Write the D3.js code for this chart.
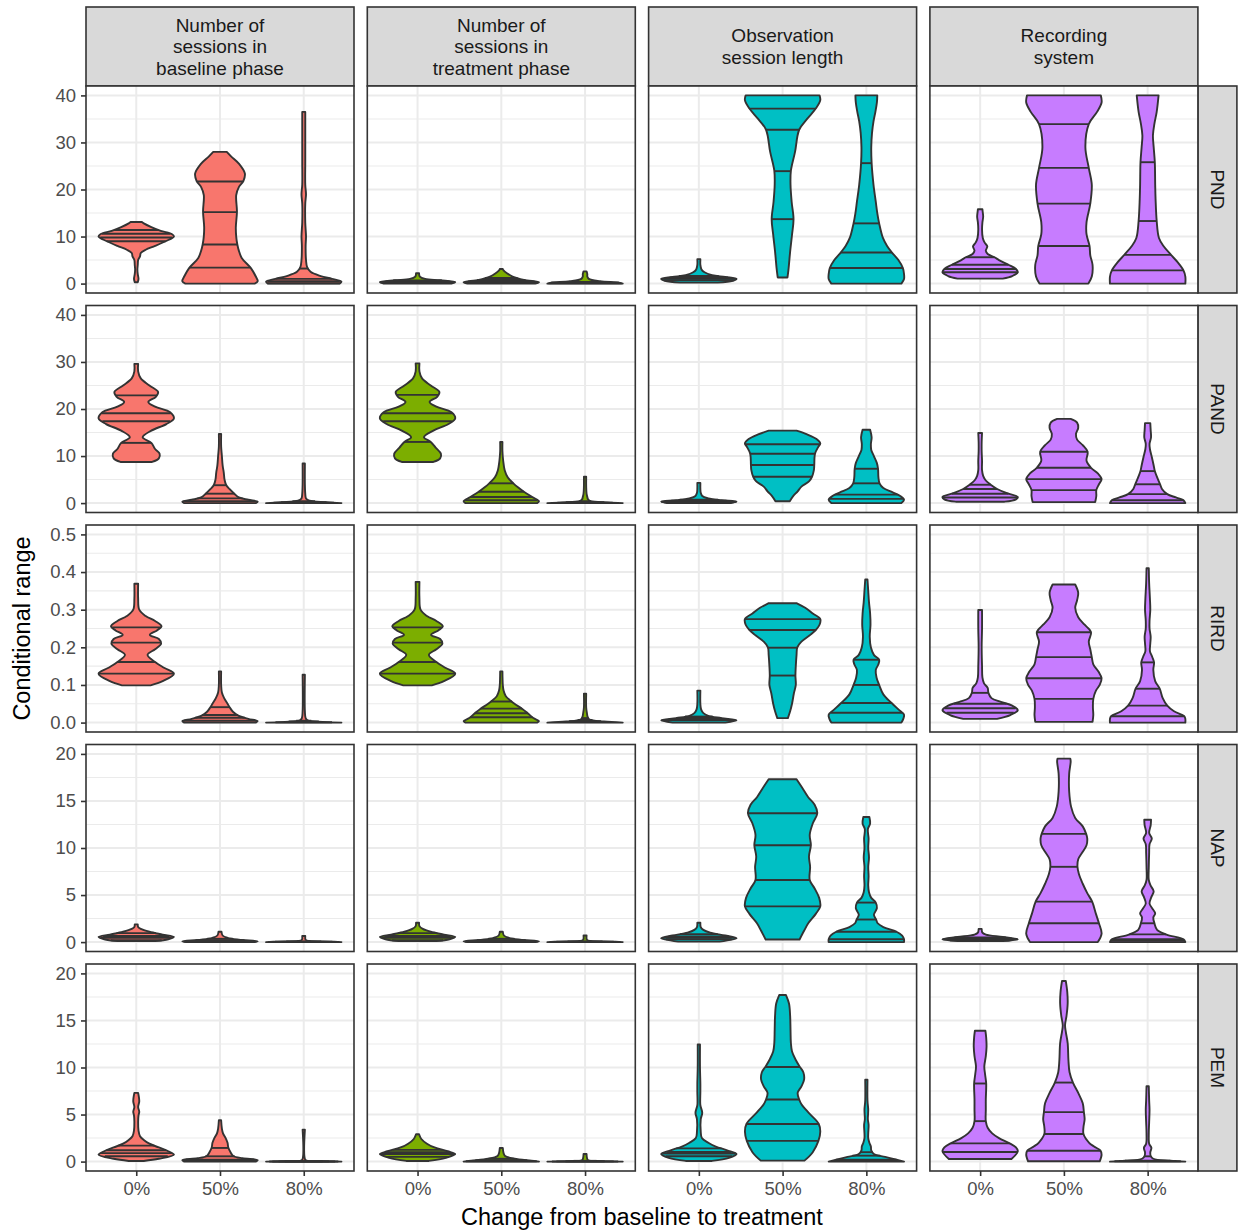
<!DOCTYPE html>
<html>
<head>
<meta charset="utf-8">
<script src="https://cdn.jsdelivr.net/npm/d3@7"></script>
<style>
body { margin: 0; background: #fff; }
text { font-family: "Liberation Sans", Arial, Helvetica, sans-serif; }
</style>
</head>
<body>
<div id="vizContainer"></div>
<script>
let w = 1238;
let h = 1232;

// facet labels
let colLabels = [
	["Number of", "sessions in", "baseline phase"],
	["Number of", "sessions in", "treatment phase"],
	["Observation", "session length"],
	["Recording", "system"]
];
let rowLabels = ["PND", "PAND", "RIRD", "NAP", "PEM"];
let changes = ["0%", "50%", "80%"];

// y tick values for each row
let ticksPND = [0, 10, 20, 30, 40];
let ticksPAND = [0, 10, 20, 30, 40];
let ticksRIRD = [0, 0.1, 0.2, 0.3, 0.4, 0.5];
let ticksNAP = [0, 5, 10, 15, 20];
let ticksPEM = [0, 5, 10, 15, 20];

// violin outlines: [value, relative half width]
// indexed [column][change]
let shapePND = [
	[
		[[0.3,.04],[1,.06],[2,.04],[3,.03],[4,.04],[5,.05],[5.8,.1],[6.5,.12],[7.2,.25],[8,.5],[9,.78],[10,1],[10.5,.95],[11.2,.65],[12,.4],[12.8,.2],[13.1,.15]],
		[[0,.92],[.5,1],[1.5,.95],[3.3,.82],[5.4,.58],[7,.5],[8.3,.46],[10,.43],[12,.42],[15.3,.45],[18.8,.43],[20.5,.5],[21.8,.62],[23.4,.66],[25.5,.5],[27,.3],[28,.18]],
		[[0,.95],[.4,1],[1,.75],[1.6,.45],[2.5,.18],[3.5,.09],[5,.06],[8,.05],[10,.06],[13,.04],[17,.04],[19,.06],[21,.04],[26,.04],[32,.04],[36.5,.04]]
	],
	[
		[[0,.9],[.3,1],[.7,.6],[1,.2],[1.5,.06],[2.2,.04]],
		[[0,.9],[.3,1],[.8,.6],[1.5,.3],[2.2,.15],[2.8,.06],[3.1,.04]],
		[[0,1],[.2,.9],[.5,.4],[1,.1],[1.5,.06],[2,.06],[2.6,.04]]
	],
	[
		[[.2,.5],[.6,.9],[1,1],[1.4,.7],[1.8,.35],[2.4,.15],[3,.07],[4,.04],[5.2,.04]],
		[[1.3,.13],[3.3,.16],[6.8,.2],[10.4,.25],[13.7,.29],[17.4,.24],[21,.21],[24,.22],[28,.33],[32.7,.44],[35,.65],[37.2,.88],[39,1],[40,.98]],
		[[0,.93],[1,1],[2,1],[3.3,.97],[5,.85],[6.6,.68],[8,.55],[9.7,.44],[12.8,.34],[15,.29],[17.4,.25],[21,.19],[25.6,.14],[29,.13],[32,.15],[34.5,.19],[36.5,.24],[38.5,.28],[40,.29]]
	],
	[
		[[1.06,.6],[1.6,.85],[2.4,1],[3.1,.95],[4,.75],[5,.5],[5.6,.38],[6.3,.2],[7,.15],[7.9,.19],[8.7,.12],[9.7,.07],[11.5,.05],[13,.06],[14.2,.08],[15.1,.07],[15.8,.06]],
		[[0,.65],[1.5,.74],[4,.76],[6,.7],[8,.68],[10.5,.6],[13,.6],[17,.7],[21,.74],[24.6,.66],[29,.57],[33.9,.66],[36.5,.88],[38.5,1],[40,.98]],
		[[0,1],[1.5,1],[2.8,.95],[4.5,.8],[6.1,.62],[8,.42],[9.7,.3],[13.3,.24],[18,.21],[21,.2],[25.8,.19],[29,.16],[31.5,.14],[34,.18],[36.5,.24],[40,.29]]
	]
];
let quantPND = [
	[[9.0,9.8,10.6,11.4], [3.4,8.3,15.2,21.7], [0.07,0.5,1.0,3.2]],
	[[0.15,0.3,0.45,0.65], [0.2,0.45,0.75,1.2], [0.05,0.1,0.2,0.35]],
	[[0.7,1.0,1.3,1.6], [13.7,23.9,32.7,37.2], [3.3,6.6,12.8,25.6]],
	[[2.4,3.1,4.0,5.6], [8.0,17.0,24.6,33.9], [2.8,6.1,13.3,25.8]]
];

let shapePAND = [
	[
		[[8.75,.42],[9.5,.6],[10.5,.62],[11.5,.5],[12.8,.4],[14,.17],[15.4,.4],[16.8,.8],[18,1],[19.3,.9],[20.5,.5],[21.5,.32],[22.6,.52],[23.6,.58],[25,.35],[26.5,.12],[28,.05],[29.6,.05]],
		[[0,.95],[.3,1],[.7,.75],[1.2,.5],[2,.38],[3,.25],[3.9,.16],[5,.12],[6.5,.1],[8,.07],[10,.05],[12,.03],[14.7,.03]],
		[[0,1],[.2,.6],[.5,.15],[1,.06],[2,.04],[4,.03],[8.4,.03]]
	],
	[
		[[8.75,.42],[9.5,.6],[10.5,.62],[11.8,.48],[13,.35],[14,.17],[15.4,.42],[16.8,.82],[18,1],[19.3,.9],[20.5,.5],[21.5,.32],[22.6,.52],[23.6,.58],[25,.35],[26.5,.12],[28,.05],[29.7,.05]],
		[[0,.95],[.4,1],[1.3,.82],[2.4,.6],[3.3,.45],[4.2,.32],[5.5,.17],[7,.09],[9,.05],[11,.03],[13,.03]],
		[[0,1],[.15,.6],[.4,.15],[.8,.08],[1.3,.06],[2,.04],[3.5,.03],[5.6,.03]]
	],
	[
		[[0,.85],[.3,1],[.6,.6],[1,.25],[1.5,.09],[2.2,.05],[3,.04],[4.3,.04]],
		[[.4,.19],[1.5,.28],[2.5,.4],[3.5,.5],[4.6,.7],[5.6,.78],[7,.83],[8.1,.84],[10.5,.86],[12,.95],[12.7,1],[13.6,.9],[14.6,.65],[15.4,.37]],
		[[0,.93],[.7,1],[1.5,.9],[2.3,.7],[3.2,.45],[4.2,.35],[5.5,.32],[7.3,.31],[8.5,.28],[10,.2],[11.3,.13],[12.5,.12],[14,.14],[15.6,.1]]
	],
	[
		[[.3,.65],[.8,.95],[1.3,1],[2,.75],[3,.45],[3.9,.28],[4.8,.15],[5.8,.08],[7,.05],[9,.05],[11,.04],[13,.04],[14.9,.05]],
		[[.2,.83],[1.5,.86],[2.75,.86],[4,.93],[5.1,1],[6.3,.9],[7.5,.72],[9,.6],[10.9,.63],[12.3,.5],[13.5,.35],[14.7,.32],[16,.38],[17.1,.35],[17.9,.18]],
		[[0,1],[.6,.95],[1.2,.75],[1.9,.52],[3,.38],[4,.33],[5.5,.25],[6.8,.19],[8,.16],[9.8,.11],[11.5,.06],[12.6,.05],[14,.09],[15.5,.08],[17,.07]]
	]
];
let quantPAND = [
	[[12.8,17.4,19.1,22.9], [0.4,1.0,2.0,3.8], [0.05,0.1,0.2,0.4]],
	[[13.0,17.4,19.1,23.0], [0.6,1.3,2.4,4.2], [0.05,0.1,0.2,0.4]],
	[[0.15,0.3,0.5,0.7], [5.6,8.1,10.5,12.5], [0.9,1.8,4.2,7.3]],
	[[1.2,2.0,3.0,3.9], [2.75,5.1,7.5,10.9], [0.6,1.9,4.0,6.8]]
];

let shapeRIRD = [
	[
		[[.099,.38],[.11,.7],[.13,1],[.145,.75],[.161,.5],[.18,.3],[.195,.5],[.21,.66],[.222,.6],[.233,.36],[.245,.55],[.256,.67],[.27,.5],[.283,.25],[.3,.08],[.33,.05],[.369,.05]],
		[[0,.95],[.004,1],[.01,.75],[.018,.5],[.028,.35],[.04,.26],[.05,.2],[.065,.11],[.08,.05],[.1,.03],[.136,.03]],
		[[0,1],[.002,.5],[.006,.1],[.012,.05],[.03,.03],[.127,.03]]
	],
	[
		[[.099,.38],[.11,.7],[.13,1],[.145,.75],[.161,.5],[.18,.3],[.195,.5],[.21,.66],[.222,.6],[.233,.36],[.245,.55],[.256,.67],[.27,.5],[.283,.25],[.3,.08],[.33,.05],[.374,.05]],
		[[0,.95],[.004,1],[.012,.85],[.025,.7],[.037,.55],[.05,.35],[.058,.25],[.07,.12],[.085,.06],[.1,.04],[.136,.03]],
		[[0,1],[.003,.5],[.008,.12],[.015,.07],[.025,.05],[.04,.03],[.077,.03]]
	],
	[
		[[0,.7],[.006,1],[.012,.6],[.018,.25],[.025,.12],[.035,.06],[.05,.04],[.085,.04]],
		[[.012,.14],[.03,.2],[.05,.25],[.078,.3],[.1,.35],[.125,.34],[.15,.35],[.18,.37],[.2,.39],[.215,.5],[.232,.72],[.246,.88],[.26,.98],[.275,1],[.29,.8],[.305,.6],[.317,.38]],
		[[0,.93],[.01,.98],[.021,1],[.035,.85],[.052,.67],[.075,.45],[.1,.34],[.12,.27],[.14,.25],[.155,.32],[.167,.34],[.18,.2],[.2,.12],[.228,.09],[.26,.11],[.29,.1],[.32,.07],[.35,.05],[.38,.03]]
	],
	[
		[[.01,.45],[.02,.8],[.033,1],[.045,.85],[.055,.55],[.065,.3],[.079,.22],[.092,.2],[.105,.1],[.12,.06],[.15,.05],[.2,.04],[.25,.05],[.299,.05]],
		[[.002,.76],[.02,.78],[.04,.77],[.063,.78],[.085,.85],[.1,.95],[.118,1],[.135,.92],[.155,.78],[.174,.74],[.195,.7],[.215,.66],[.24,.72],[.26,.55],[.28,.38],[.305,.3],[.325,.35],[.345,.38],[.367,.3]],
		[[0,1],[.01,1],[.017,.97],[.03,.7],[.045,.52],[.065,.4],[.09,.32],[.11,.2],[.14,.15],[.16,.17],[.175,.12],[.19,.06],[.21,.07],[.228,.08],[.25,.05],[.27,.05],[.3,.07],[.33,.06],[.37,.04],[.41,.03]]
	]
];
let quantRIRD = [
	[[.13,.161,.2125,.253], [.005,.013,.02,.041], [.001,.002,.003,.005]],
	[[.13,.161,.2125,.253], [.014,.025,.037,.056], [.002,.004,.007,.012]],
	[[.006,.009,.012,.016], [.125,.199,.246,.275], [.026,.052,.1,.167]],
	[[.026,.038,.05,.079], [.063,.118,.174,.24], [.017,.045,.09,.16]]
];

let shapeNAP = [
	[
		[[.1,.5],[.3,.85],[.55,1],[.8,.7],[1.1,.35],[1.4,.12],[1.6,.05],[1.88,.04]],
		[[0,.9],[.08,1],[.25,.5],[.45,.2],[.7,.07],[1.1,.04]],
		[[0,1],[.05,.7],[.12,.15],[.25,.05],[.64,.04]]
	],
	[
		[[.1,.5],[.3,.85],[.55,1],[.8,.7],[1.1,.35],[1.4,.14],[1.7,.05],[2.06,.04]],
		[[0,.9],[.08,1],[.25,.5],[.45,.2],[.7,.07],[1.1,.04]],
		[[0,1],[.05,.7],[.12,.15],[.25,.05],[.7,.04]]
	],
	[
		[[.05,.55],[.4,1],[.7,.7],[1,.3],[1.3,.12],[1.6,.05],[2.06,.04]],
		[[.28,.45],[1.2,.57],[2,.68],[3,.88],[3.8,1],[4.7,.97],[5.7,.85],[6.6,.72],[8,.73],[9.1,.7],[10.3,.75],[11.4,.72],[12.6,.8],[13.7,.92],[14.6,.85],[15.4,.68],[16.4,.52],[17.3,.37]],
		[[0,1],[.3,1],[.7,.95],[1.1,.8],[1.6,.45],[2,.3],[2.4,.26],[2.9,.2],[3.6,.28],[4.2,.25],[4.7,.13],[5.3,.07],[6,.05],[7,.06],[8,.05],[9,.07],[10,.05],[11,.06],[12,.04],[12.6,.1],[13.3,.08]]
	],
	[
		[[.1,.6],[.3,1],[.55,.6],[.8,.15],[1,.06],[1.4,.04]],
		[[0,.9],[.9,1],[2,.93],[3,.85],[4.3,.75],[5.2,.62],[6.2,.5],[7.2,.4],[8,.36],[8.8,.38],[9.6,.5],[10.3,.6],[11,.62],[11.5,.59],[12.3,.5],[13.2,.3],[14.4,.19],[16,.14],[17.9,.14],[19.2,.18],[19.5,.17]],
		[[0,1],[.3,.95],[.8,.5],[1.3,.25],[2,.18],[2.6,.15],[3.05,.2],[3.6,.12],[4.1,.05],[4.8,.1],[5.4,.16],[6,.08],[6.6,.03],[8,.03],[9.5,.04],[10.4,.05],[11,.11],[11.6,.04],[12.4,.08],[13,.09]]
	]
];
let quantNAP = [
	[[.2,.45,.65,.95], [.05,.12,.2,.35], [.01,.02,.04,.08]],
	[[.2,.45,.65,.95], [.05,.12,.2,.35], [.01,.02,.04,.08]],
	[[.3,.45,.6,.85], [3.8,6.6,10.3,13.7], [.3,1.1,2.4,4.2]],
	[[.2,.3,.4,.5], [2.0,4.3,8.0,11.5], [.15,.32,.82,2.0]]
];

let shapePEM = [
	[
		[[.07,.2],[.3,.6],[.74,1],[1.1,.85],[1.5,.6],[1.9,.35],[2.3,.2],[2.7,.1],[3.3,.06],[4.2,.05],[4.9,.06],[5.3,.08],[5.8,.05],[6.4,.08],[7.3,.05]],
		[[0,.95],[.15,1],[.35,.6],[.6,.35],[1,.28],[1.5,.22],[2,.2],[2.5,.15],[3,.08],[3.5,.05],[4.4,.03]],
		[[0,1],[.03,.5],[.08,.1],[.2,.04],[3.4,.03]]
	],
	[
		[[.07,.3],[.4,.75],[.8,1],[1.1,.8],[1.5,.45],[1.9,.25],[2.4,.1],[2.9,.04]],
		[[0,1],[.1,.8],[.3,.35],[.6,.1],[.9,.06],[1.45,.04]],
		[[0,1],[.05,.4],[.15,.08],[.4,.05],[.8,.04]]
	],
	[
		[[.07,.35],[.4,.8],[.8,1],[1.2,.75],[1.6,.45],[2,.25],[2.5,.08],[3.2,.05],[4.5,.05],[5.2,.09],[6,.04],[7.4,.04],[8.3,.04],[10,.03],[12.45,.03]],
		[[.1,.58],[1,.8],[2.2,.95],[3.2,1],[4,.96],[5.15,.7],[6.1,.5],[6.6,.44],[7.3,.4],[8,.5],[8.7,.57],[9.5,.55],[10.05,.46],[10.8,.35],[11.7,.25],[12.6,.22],[14,.21],[15.5,.2],[16.8,.17],[17.7,.09]],
		[[0,1],[.2,.8],[.5,.5],[.8,.2],[1.2,.13],[1.6,.12],[2,.08],[2.5,.05],[3,.05],[3.9,.06],[4.5,.04],[5.5,.05],[6.5,.03],[8.7,.03]]
	],
	[
		[[.28,.83],[1.1,1],[1.5,.95],[1.94,.78],[2.5,.5],[3,.32],[3.6,.2],[4.3,.15],[5.5,.15],[6.6,.15],[8.3,.16],[9.3,.13],[10.1,.11],[11.2,.15],[12.2,.17],[13.2,.16],[13.9,.14]],
		[[.03,.95],[.74,1],[1.16,.97],[1.6,.8],[2,.67],[2.93,.52],[3.7,.52],[4.5,.55],[5.26,.53],[6.2,.5],[7.3,.38],[8.4,.24],[9.5,.15],[10.8,.12],[12.6,.1],[13.8,.05],[14.5,.03],[15.5,.07],[16.8,.1],[18,.09],[19.2,.05]],
		[[0,1],[.1,.6],[.3,.15],[.6,.08],[1,.07],[1.45,.1],[1.9,.04],[3,.03],[4.2,.04],[5.5,.05],[6.5,.04],[8,.03]]
	]
];
let quantPEM = [
	[[.56,.9,1.2,1.7], [.08,.2,.56,1.45], [.005,.01,.02,.03]],
	[[.5,.8,1.0,1.25], [.03,.08,.15,.3], [.01,.02,.04,.08]],
	[[.56,.85,1.02,1.4], [2.2,4.0,6.6,10.05], [.08,.2,.63,1.0]],
	[[1.02,1.94,4.3,8.3], [1.16,2.93,5.26,8.4], [.03,.06,.1,.56]]
];

let rowShapes = [shapePND, shapePAND, shapeRIRD, shapeNAP, shapePEM];
let rowQuants = [quantPND, quantPAND, quantRIRD, quantNAP, quantPEM];
let rowTicks = [ticksPND, ticksPAND, ticksRIRD, ticksNAP, ticksPEM];

// look
let fills = ["#F8766D", "#7CAE00", "#00BFC4", "#C77CFF"];
let dark = "#333333";
let gridCol = "#EBEBEB";

let left0 = 86, top0 = 86;
let pw = 268, ph = 207;
let stepX = 281.3, stepY = 219.5;
let stripH = 79, stripW = 39;
let tickFont = 18.5, stripFont = 19, titleFont = 23.5;

let viz = d3.select('#vizContainer').append('svg')
	.attr('width', w)
	.attr('height', h)
	.style('background-color', 'white');

// top strips
colLabels.forEach(function(lines, j){
	let x0 = left0 + j * stepX;
	let g = viz.append('g');
	g.append('rect')
		.attr('x', x0).attr('y', top0 - stripH)
		.attr('width', pw).attr('height', stripH)
		.attr('fill', '#D9D9D9').attr('stroke', dark).attr('stroke-width', 1.6);
	let lh = 21.5;
	let startY = top0 - stripH / 2 - (lines.length - 1) * lh / 2;
	let t = g.append('text')
		.attr('text-anchor', 'middle')
		.attr('font-size', stripFont)
		.attr('fill', '#1A1A1A');
	lines.forEach(function(s, k){
		t.append('tspan')
			.attr('x', x0 + pw / 2)
			.attr('y', startY + k * lh)
			.attr('dy', '0.35em')
			.text(s);
	});
});

let area = d3.area().curve(d3.curveCatmullRom.alpha(0.5));

rowLabels.forEach(function(rowName, i){
	let y0 = top0 + i * stepY;
	let ticks = rowTicks[i];
	let lo = d3.min(ticks), hi = d3.max(ticks);
	let pad = (hi - lo) * 0.05;
	let yScale = d3.scaleLinear().domain([lo - pad, hi + pad]).range([y0 + ph, y0]);
	let tickStep = ticks[1] - ticks[0];
	let minor = ticks.slice(0, -1).map(function(t){ return t + tickStep / 2; });

	// right strip
	viz.append('rect')
		.attr('x', left0 + 3 * stepX + pw).attr('y', y0)
		.attr('width', stripW).attr('height', ph)
		.attr('fill', '#D9D9D9').attr('stroke', dark).attr('stroke-width', 1.6);
	viz.append('text')
		.attr('transform', 'translate(' + (left0 + 3 * stepX + pw + stripW / 2) + ',' + (y0 + ph / 2) + ') rotate(90)')
		.attr('text-anchor', 'middle')
		.attr('dy', '0.35em')
		.attr('font-size', stripFont)
		.attr('fill', '#1A1A1A')
		.text(rowName);

	// y axis on the left column
	let fmt = tickStep < 1 ? d3.format('.1f') : d3.format('d');
	let yAxis = d3.axisLeft(yScale).tickValues(ticks).tickSize(5).tickPadding(5).tickFormat(fmt);
	let ag = viz.append('g')
		.attr('transform', 'translate(' + left0 + ',0)')
		.call(yAxis);
	ag.select('.domain').remove();
	ag.selectAll('line').attr('stroke', dark).attr('stroke-width', 1.6);
	ag.selectAll('text').attr('font-size', tickFont).attr('fill', '#4D4D4D')
		.style('font-family', '"Liberation Sans", Arial, sans-serif');

	colLabels.forEach(function(c, j){
		let x0 = left0 + j * stepX;
		let xScale = d3.scalePoint().domain(changes).range([x0, x0 + pw]).padding(0.6);
		let hw = xScale.step() * 0.45;
		let pg = viz.append('g');

		pg.append('rect').attr('x', x0).attr('y', y0).attr('width', pw).attr('height', ph).attr('fill', 'white');

		pg.selectAll('.minor').data(minor).enter().append('line')
			.attr('x1', x0).attr('x2', x0 + pw)
			.attr('y1', function(d){ return yScale(d); })
			.attr('y2', function(d){ return yScale(d); })
			.attr('stroke', gridCol).attr('stroke-width', 1.1);
		pg.selectAll('.major').data(ticks).enter().append('line')
			.attr('x1', x0).attr('x2', x0 + pw)
			.attr('y1', function(d){ return yScale(d); })
			.attr('y2', function(d){ return yScale(d); })
			.attr('stroke', gridCol).attr('stroke-width', 2);
		pg.selectAll('.vmajor').data(changes).enter().append('line')
			.attr('x1', function(d){ return xScale(d); })
			.attr('x2', function(d){ return xScale(d); })
			.attr('y1', y0).attr('y2', y0 + ph)
			.attr('stroke', gridCol).attr('stroke-width', 2);

		changes.forEach(function(ch, k){
			let prof = rowShapes[i][j][k];
			let cx = xScale(ch);
			area.y(function(d){ return yScale(d[0]); })
				.x0(function(d){ return cx - d[1] * hw; })
				.x1(function(d){ return cx + d[1] * hw; });
			pg.append('path')
				.attr('d', area(prof))
				.attr('fill', fills[j])
				.attr('stroke', dark)
				.attr('stroke-width', 1.9)
				.attr('stroke-linejoin', 'round');

			let widthAt = d3.scaleLinear()
				.domain(prof.map(function(d){ return d[0]; }))
				.range(prof.map(function(d){ return d[1]; }));
			pg.selectAll('.q' + k).data(rowQuants[i][j][k]).enter().append('line')
				.attr('x1', function(q){ return cx - widthAt(q) * hw; })
				.attr('x2', function(q){ return cx + widthAt(q) * hw; })
				.attr('y1', function(q){ return yScale(q); })
				.attr('y2', function(q){ return yScale(q); })
				.attr('stroke', dark).attr('stroke-width', 1.9);
		});

		pg.append('rect').attr('x', x0).attr('y', y0).attr('width', pw).attr('height', ph)
			.attr('fill', 'none').attr('stroke', dark).attr('stroke-width', 1.6);

		// x axis under the bottom row
		if (i === rowLabels.length - 1) {
			let xg = viz.append('g')
				.attr('transform', 'translate(0,' + (y0 + ph) + ')')
				.call(d3.axisBottom(xScale).tickSize(5).tickPadding(6));
			xg.select('.domain').remove();
			xg.selectAll('line').attr('stroke', dark).attr('stroke-width', 1.6);
			xg.selectAll('text').attr('font-size', tickFont).attr('fill', '#4D4D4D')
				.style('font-family', '"Liberation Sans", Arial, sans-serif');
		}
	});
});

// axis titles
let panelsRight = left0 + 3 * stepX + pw;
viz.append('text')
	.attr('x', (left0 + panelsRight) / 2)
	.attr('y', 1225)
	.attr('text-anchor', 'middle')
	.attr('font-size', titleFont)
	.attr('fill', 'black')
	.text('Change from baseline to treatment');

viz.append('text')
	.attr('transform', 'translate(30,' + (top0 + (4 * stepY + ph) / 2) + ') rotate(-90)')
	.attr('text-anchor', 'middle')
	.attr('font-size', titleFont)
	.attr('fill', 'black')
	.text('Conditional range');
</script>
</body>
</html>
